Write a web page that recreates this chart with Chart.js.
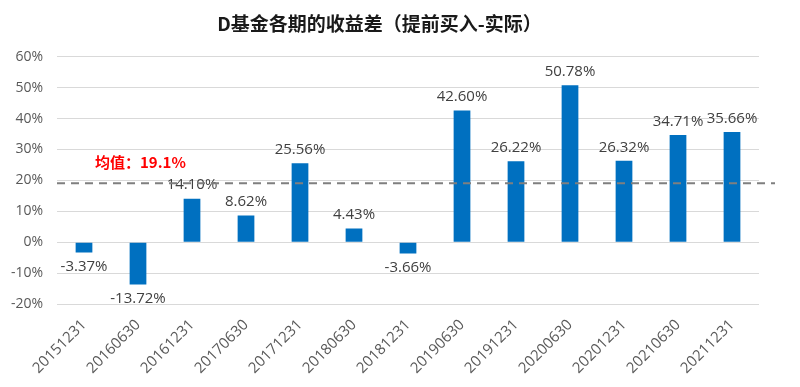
<!DOCTYPE html>
<html><head><meta charset="utf-8">
<script src="https://cdn.jsdelivr.net/npm/chart.js@4"></script>
<style>html,body{margin:0;padding:0;background:#fff}#wrap{width:800px;height:387px}</style>
</head><body><div id="wrap"><canvas id="c"></canvas></div>
<script>
const categories = ['20151231','20160630','20161231','20170630','20171231','20180630','20181231','20190630','20191231','20200630','20201231','20210630','20211231'];
const diffValues = [-3.37,-13.72,14.10,8.62,25.56,4.43,-3.66,42.60,26.22,50.78,26.32,34.71,35.66];
const averageValue = 19.1;
const averageLabel = '均值：19.1%';
const yTicks = [-20,-10,0,10,20,30,40,50,60];

const FONT = '"Noto Sans CJK SC", "Open Sans", sans-serif';

const labelPlugin = {
  id: 'labels',
  afterDatasetsDraw(chart) {
    const ctx = chart.ctx;
    const meta = chart.getDatasetMeta(0);
    ctx.save();
    ctx.font = '15px "Open Sans", sans-serif';
    ctx.fillStyle = '#404040';
    ctx.textAlign = 'center';
    meta.data.forEach((bar, i) => {
      const v = diffValues[i];
      const t = v.toFixed(2) + '%';
      if (v >= 0) { ctx.textBaseline = 'bottom'; ctx.fillText(t, bar.x, bar.y - 6); }
      else { ctx.textBaseline = 'top'; ctx.fillText(t, bar.x, bar.y + 7); }
    });
    const y = chart.scales.y.getPixelForValue(averageValue);
    ctx.strokeStyle = '#7f7f7f';
    ctx.lineWidth = 2;
    ctx.setLineDash([8, 6]);
    ctx.beginPath();
    ctx.moveTo(57, y);
    ctx.lineTo(775, y);
    ctx.stroke();
    ctx.setLineDash([]);
    ctx.font = 'bold 15px ' + FONT;
    ctx.fillStyle = '#ff0000';
    ctx.textAlign = 'left';
    ctx.textBaseline = 'middle';
    ctx.fillText(averageLabel, 95, y - 21);
    ctx.restore();
  }
};

new Chart(document.getElementById('c'), {
  type: 'bar',
  data: {
    labels: categories,
    datasets: [{
      data: diffValues,
      backgroundColor: '#0070c0',
      barPercentage: 0.62,
      categoryPercentage: 0.5
    }]
  },
  options: {
    responsive: true,
    maintainAspectRatio: false,
    animation: false,
    layout: { padding: { left: 0, right: 41, top: 2, bottom: 2 } },
    plugins: {
      legend: { display: false },
      tooltip: { enabled: false },
      title: {
        display: true,
        text: 'D基金各期的收益差（提前买入-实际）',
        color: '#1a1a1a',
        font: { family: FONT, size: 19, weight: 'bold' },
        padding: { top: 10, bottom: 22 }
      }
    },
    scales: {
      x: {
        grid: { display: false, drawTicks: false },
        border: { display: false },
        afterFit(scale) { scale.height = 81; },
        ticks: {
          color: '#595959',
          font: { family: '"Open Sans", sans-serif', size: 15 },
          maxRotation: 45, minRotation: 45,
          padding: 12
        }
      },
      y: {
        min: -20, max: 60,
        afterBuildTicks(scale) { scale.ticks = yTicks.map(v => ({ value: v })); },
        afterFit(scale) { scale.width = 57; },
        grid: { color: '#d9d9d9', drawTicks: false },
        border: { display: false },
        ticks: {
          color: '#595959',
          font: { family: '"Open Sans", sans-serif', size: 14 },
          padding: 14,
          callback: v => v + '%'
        }
      }
    }
  },
  plugins: [labelPlugin]
});
</script></body></html>
